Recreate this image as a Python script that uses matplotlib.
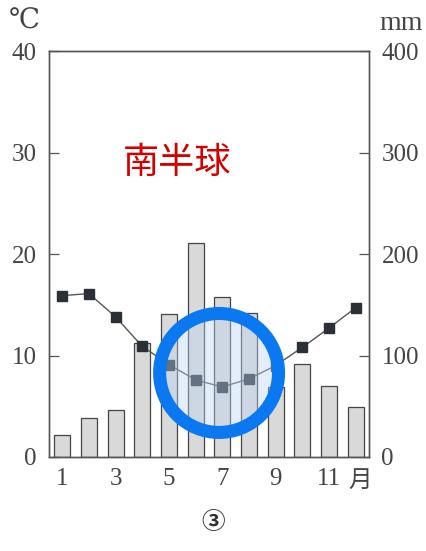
import matplotlib
matplotlib.use("Agg")
import matplotlib.pyplot as plt
from matplotlib.patches import Ellipse

months = list(range(1, 13))
precip = [22, 38, 46, 112, 141, 211, 158, 142, 69, 92, 70, 49]
temp = [15.9, 16.1, 13.8, 10.9, 9.1, 7.6, 6.9, 7.7, 9.0, 10.8, 12.7, 14.7]
xticks = [1, 3, 5, 7, 9, 11]
yticks_t = [0, 10, 20, 30, 40]
yticks_p = [0, 100, 200, 300, 400]

serif = "Liberation Serif"
cjk = ["Noto Sans CJK JP", "DejaVu Sans"]

fig = plt.figure(figsize=(4.26, 5.51), dpi=100)
ax_p = fig.add_axes([0.115, 0.1706, 0.751, 0.7368])
ax_t = ax_p.twinx()

ax_p.bar(months, precip, width=0.6, color="#d9d9d9", edgecolor="#444444", linewidth=0.9, zorder=2)
ax_p.set_ylim(0, 400)
ax_p.set_xlim(0.5, 12.5)
ax_p.set_yticks(yticks_p)
ax_p.yaxis.tick_right()
ax_p.set_xticks(xticks)
ax_p.tick_params(axis="x", length=0, pad=8, labelsize=18)
ax_p.tick_params(axis="y", direction="in", length=7, width=0.9, color="#555555", labelsize=18, pad=9, labelcolor="#444444")
for lab in ax_p.get_xticklabels() + ax_p.get_yticklabels():
    lab.set_fontfamily(serif)
ax_p.set_xticklabels([str(m) for m in xticks], color="#444444")

ax_t.set_ylim(0, 40)
ax_t.set_yticks(yticks_t)
ax_t.yaxis.tick_left()
ax_t.tick_params(axis="y", direction="in", length=7, width=0.9, color="#555555", labelsize=18, pad=9, labelcolor="#444444")
for lab in ax_t.get_yticklabels():
    lab.set_fontfamily(serif)
ax_t.plot(months, temp, color="#555555", linewidth=1.0, marker="s", markersize=7,
          markerfacecolor="#2b2f36", markeredgecolor="#2b2f36", zorder=3)

for a in (ax_p, ax_t):
    for s in a.spines.values():
        s.set_color("#555555")
        s.set_linewidth(1.0)

# highlight circle
ax_t.add_patch(Ellipse((6.88, 8.28), 4.46, 11.72, facecolor="#bcd6f5", alpha=0.4,
                       edgecolor="none", zorder=4))
ax_t.add_patch(Ellipse((6.88, 8.28), 4.46, 11.72, facecolor="none",
                       edgecolor="#0a78f0", linewidth=9.4, zorder=5))

ax_t.text(12.17, -2.3, "月", fontsize=17, family=cjk, color="#444444", ha="center", va="center")
fig.text(9 / 426, 1 - 21 / 551, "℃", fontsize=20, family=["DejaVu Serif"], color="#444444", ha="left", va="center")
fig.text(401 / 426, 1 - 23 / 551, "mm", fontsize=20, family=serif, color="#444444", ha="center", va="center")
fig.text(177 / 426, 1 - 163 / 551, "南半球", fontsize=26, family=cjk, color="#d40000", ha="center", va="center")
fig.text(213 / 426, 1 - 522 / 551, "③", fontsize=17, family=cjk, fontweight="bold", color="#333333", ha="center", va="center")

fig.savefig("out.png", dpi=100)
